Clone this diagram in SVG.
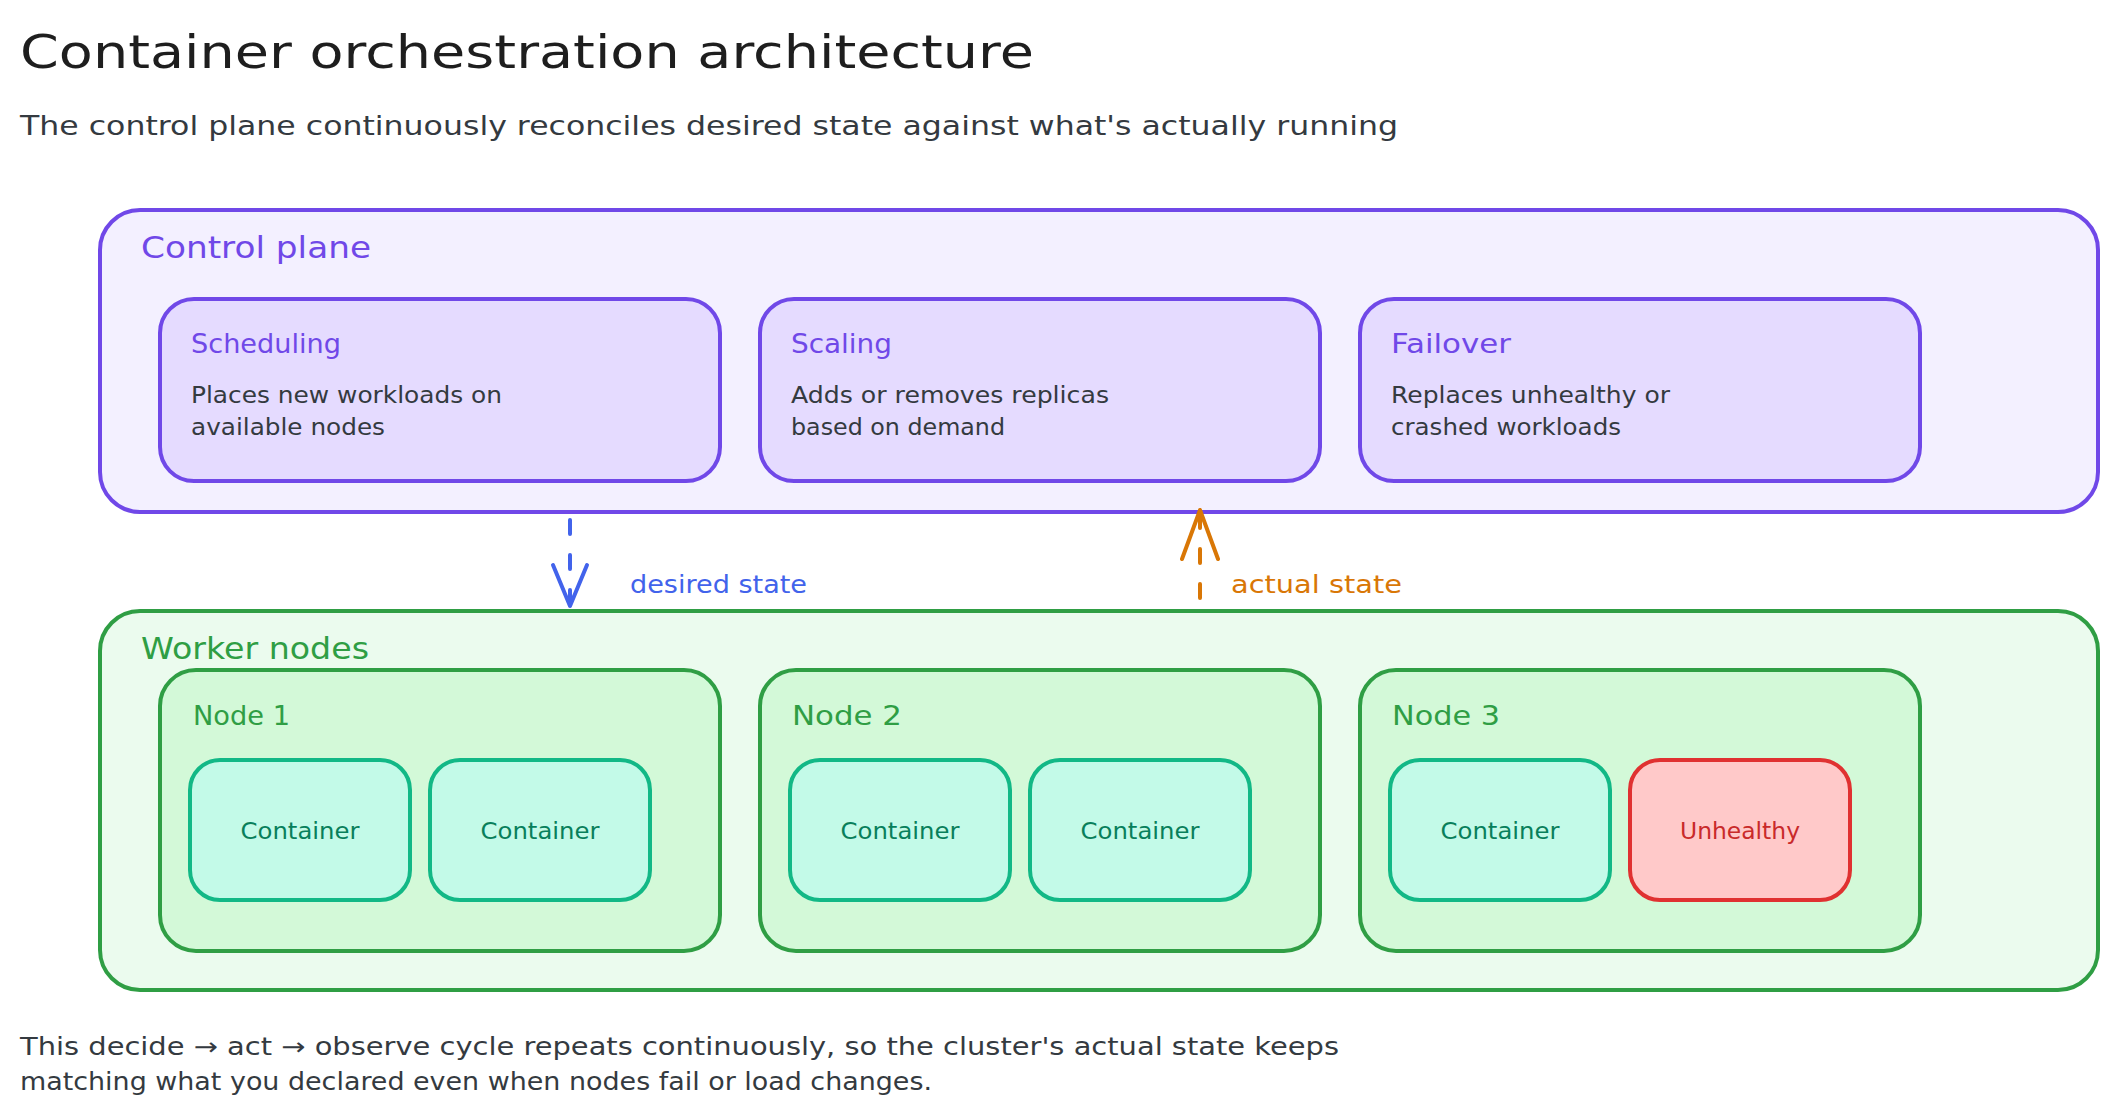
<svg xmlns="http://www.w3.org/2000/svg" width="2120" height="1120" viewBox="0 0 2120 1120">
  <style>
    text { font-family: "DejaVu Sans", "Liberation Sans", sans-serif; }
    .title { font-size: 46px; fill: #1e1e1e; }
    .subtitle { font-size: 27px; fill: #343a40; }
    .group-label { font-size: 31px; }
    .box-title { font-size: 27px; fill: #7048e8; }
    .body { font-size: 23px; fill: #343a40; }
    .node-label { font-size: 27px; fill: #2f9e44; }
    .cont-label { font-size: 23px; fill: #087f5b; }
    .bad-label { font-size: 23px; fill: #c92a2a; }
    .edge-label { font-size: 25px; }
    .footer { font-size: 24px; fill: #343a40; }
    .cp { fill: #f3f0ff; stroke: #7048e8; stroke-width: 4; }
    .cp-box { fill: #e5dbff; stroke: #7048e8; stroke-width: 4; }
    .wk { fill: #ebfbee; stroke: #2f9e44; stroke-width: 4; }
    .node { fill: #d3f9d8; stroke: #2f9e44; stroke-width: 4; }
    .cont { fill: #c3fae8; stroke: #12b886; stroke-width: 4; }
    .bad { fill: #ffc9c9; stroke: #e03131; stroke-width: 4; }
    .edge { fill: none; stroke-width: 4; stroke-linecap: round; stroke-dasharray: 14 21; }
  </style>
  <defs>
    <marker id="head-blue" viewBox="0 0 48 40" markerUnits="userSpaceOnUse" markerWidth="48" markerHeight="40" refX="43" refY="20" orient="auto" overflow="visible">
      <path d="M2,3 L43,20 L2,37" fill="none" stroke="#4263eb" stroke-width="4" stroke-linecap="round" stroke-linejoin="round"/>
    </marker>
    <marker id="head-orange" viewBox="0 0 54 40" markerUnits="userSpaceOnUse" markerWidth="54" markerHeight="40" refX="51" refY="20" orient="auto" overflow="visible">
      <path d="M2,2 L51,20 L2,38" fill="none" stroke="#d97706" stroke-width="4" stroke-linecap="round" stroke-linejoin="round"/>
    </marker>
  </defs>

  <rect width="2120" height="1120" fill="#ffffff"/>

  <g id="header">
    <text class="title" x="20" y="68" textLength="1014" lengthAdjust="spacingAndGlyphs">Container orchestration architecture</text>
    <text class="subtitle" x="20" y="135" textLength="1378" lengthAdjust="spacingAndGlyphs">The control plane continuously reconciles desired state against what's actually running</text>
  </g>

  <g id="control-plane">
    <rect class="cp" x="100" y="210" width="1998" height="302" rx="40"/>
    <text class="group-label" x="141" y="258" fill="#7048e8" textLength="230" lengthAdjust="spacingAndGlyphs">Control plane</text>
  </g>

  <g id="scheduling">
    <rect class="cp-box" x="160" y="299" width="560" height="182" rx="34"/>
    <text class="box-title" x="191" y="353" textLength="150" lengthAdjust="spacingAndGlyphs">Scheduling</text>
    <text class="body" x="191" y="403" textLength="311" lengthAdjust="spacingAndGlyphs">Places new workloads on</text>
    <text class="body" x="191" y="435" textLength="194" lengthAdjust="spacingAndGlyphs">available nodes</text>
  </g>

  <g id="scaling">
    <rect class="cp-box" x="760" y="299" width="560" height="182" rx="34"/>
    <text class="box-title" x="791" y="353" textLength="101" lengthAdjust="spacingAndGlyphs">Scaling</text>
    <text class="body" x="791" y="403" textLength="318" lengthAdjust="spacingAndGlyphs">Adds or removes replicas</text>
    <text class="body" x="791" y="435" textLength="214" lengthAdjust="spacingAndGlyphs">based on demand</text>
  </g>

  <g id="failover">
    <rect class="cp-box" x="1360" y="299" width="560" height="182" rx="34"/>
    <text class="box-title" x="1391" y="353" textLength="120" lengthAdjust="spacingAndGlyphs">Failover</text>
    <text class="body" x="1391" y="403" textLength="279" lengthAdjust="spacingAndGlyphs">Replaces unhealthy or</text>
    <text class="body" x="1391" y="435" textLength="230" lengthAdjust="spacingAndGlyphs">crashed workloads</text>
  </g>

  <g id="worker-nodes">
    <rect class="wk" x="100" y="611" width="1998" height="379" rx="40"/>
    <text class="group-label" x="141" y="659" fill="#2f9e44" textLength="228" lengthAdjust="spacingAndGlyphs">Worker nodes</text>
  </g>

  <g id="node-1">
    <rect class="node" x="160" y="670" width="560" height="281" rx="36"/>
    <text class="node-label" x="193" y="725" textLength="97" lengthAdjust="spacingAndGlyphs">Node 1</text>
  </g>
  <g id="node-1-container-1">
    <rect class="cont" x="190" y="760" width="220" height="140" rx="30"/>
    <text class="cont-label" x="300" y="839" text-anchor="middle" textLength="119" lengthAdjust="spacingAndGlyphs">Container</text>
  </g>
  <g id="node-1-container-2">
    <rect class="cont" x="430" y="760" width="220" height="140" rx="30"/>
    <text class="cont-label" x="540" y="839" text-anchor="middle" textLength="119" lengthAdjust="spacingAndGlyphs">Container</text>
  </g>

  <g id="node-2">
    <rect class="node" x="760" y="670" width="560" height="281" rx="36"/>
    <text class="node-label" x="792" y="725" textLength="110" lengthAdjust="spacingAndGlyphs">Node 2</text>
  </g>
  <g id="node-2-container-1">
    <rect class="cont" x="790" y="760" width="220" height="140" rx="30"/>
    <text class="cont-label" x="900" y="839" text-anchor="middle" textLength="119" lengthAdjust="spacingAndGlyphs">Container</text>
  </g>
  <g id="node-2-container-2">
    <rect class="cont" x="1030" y="760" width="220" height="140" rx="30"/>
    <text class="cont-label" x="1140" y="839" text-anchor="middle" textLength="119" lengthAdjust="spacingAndGlyphs">Container</text>
  </g>

  <g id="node-3">
    <rect class="node" x="1360" y="670" width="560" height="281" rx="36"/>
    <text class="node-label" x="1392" y="725" textLength="108" lengthAdjust="spacingAndGlyphs">Node 3</text>
  </g>
  <g id="node-3-container-1">
    <rect class="cont" x="1390" y="760" width="220" height="140" rx="30"/>
    <text class="cont-label" x="1500" y="839" text-anchor="middle" textLength="119" lengthAdjust="spacingAndGlyphs">Container</text>
  </g>
  <g id="node-3-unhealthy">
    <rect class="bad" x="1630" y="760" width="220" height="140" rx="30"/>
    <text class="bad-label" x="1740" y="839" text-anchor="middle" textLength="120" lengthAdjust="spacingAndGlyphs">Unhealthy</text>
  </g>

  <g id="connectors">
    <path class="edge" d="M570,520 L570,606" stroke="#4263eb" marker-end="url(#head-blue)"/>
    <text class="edge-label" x="630" y="593" fill="#4263eb" textLength="177" lengthAdjust="spacingAndGlyphs">desired state</text>
    <path class="edge" d="M1200,598 L1200,510" stroke="#d97706" marker-end="url(#head-orange)"/>
    <text class="edge-label" x="1231" y="593" fill="#d97706" textLength="171" lengthAdjust="spacingAndGlyphs">actual state</text>
  </g>

  <g id="footer">
    <text class="footer" x="20" y="1055" textLength="1319" lengthAdjust="spacingAndGlyphs">This decide → act → observe cycle repeats continuously, so the cluster's actual state keeps</text>
    <text class="footer" x="20" y="1090" textLength="912" lengthAdjust="spacingAndGlyphs">matching what you declared even when nodes fail or load changes.</text>
  </g>
</svg>
